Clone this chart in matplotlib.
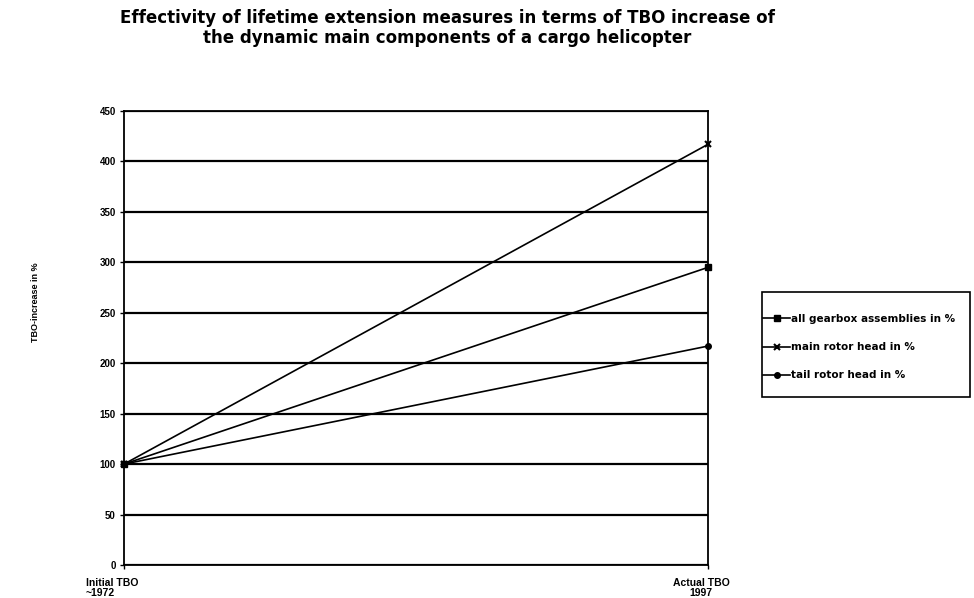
import matplotlib
matplotlib.use("Agg")
import matplotlib.pyplot as plt
from matplotlib.patches import Rectangle

categories = ["Initial TBO\n~1972", "Actual TBO\n1997"]
series_names = ["all gearbox assemblies in %", "main rotor head in %", "tail rotor head in %"]
gearbox = [100, 295]
main_rotor = [100, 417]
tail_rotor = [100, 217]
yticks = [0, 50, 100, 150, 200, 250, 300, 350, 400, 450]

plt.rcParams['font.family'] = ['Liberation Sans', 'DejaVu Sans']

W, H = 974, 598
fig = plt.figure(figsize=(W/100, H/100), dpi=100)
ax = fig.add_axes([124/W, 1-565/H, (708-124)/W, (565-111)/H])

x = list(range(len(categories)))
ax.plot(x, gearbox, color='black', lw=1.2, marker='s', ms=4, label=series_names[0], clip_on=False)
ax.plot(x, main_rotor, color='black', lw=1.2, marker='x', ms=5, mew=1.5, label=series_names[1], clip_on=False)
ax.plot(x, tail_rotor, color='black', lw=1.2, marker='o', ms=4, label=series_names[2], clip_on=False)

ax.set_xlim(0, 1)
ax.set_ylim(0, 450)
ax.set_yticks(yticks)
ax.set_yticklabels([str(v) for v in yticks], fontsize=7, fontweight='bold')
for v in yticks:
    ax.axhline(v, color='black', lw=1.6, zorder=0)
ax.set_xticks(x)
ax.set_xticklabels([])
offsets = [-12, -7]
aligns = ['left', 'center']
for xi, lab, off, al in zip(x, categories, offsets, aligns):
    ax.annotate(lab, xy=(xi, 0), xycoords=('data', 'axes fraction'),
                xytext=(off * 0.72, -9), textcoords='offset points',
                ha='center', va='top', multialignment=al, linespacing=1.0,
                fontsize=7.5, fontweight='bold', annotation_clip=False)
ax.tick_params(axis='y', length=3, width=1, direction='out', pad=3)
ax.tick_params(axis='x', length=3, width=1, direction='out', pad=6)
for s in ax.spines.values():
    s.set_color('black'); s.set_linewidth(1.3)

fig.text(35/W, 1-302/H, "TBO-increase in %", rotation=90, ha='center', va='center',
         fontsize=6.5, fontweight='bold')

fig.text(447/W, 1-28/H,
         "Effectivity of lifetime extension measures in terms of TBO increase of\nthe dynamic main components of a cargo helicopter",
         ha='center', va='center', fontsize=12, fontweight='bold', linespacing=1.2,
         family=['DejaVu Sans'])

leg = fig.legend(loc='upper left', bbox_to_anchor=(763/W, 1-314/H), frameon=False,
                 prop={'size': 7.5, 'weight': 'bold', 'family': 'DejaVu Sans'},
                 handlelength=2.6, handletextpad=0.1, borderpad=0, labelspacing=1.75,
                 borderaxespad=0)
fig.patches.append(Rectangle((762/W, 1-397/H), (970-762)/W, (397-292)/H,
                             transform=fig.transFigure, fill=False, edgecolor='black', lw=1.2))

fig.savefig("out.png", dpi=100)
